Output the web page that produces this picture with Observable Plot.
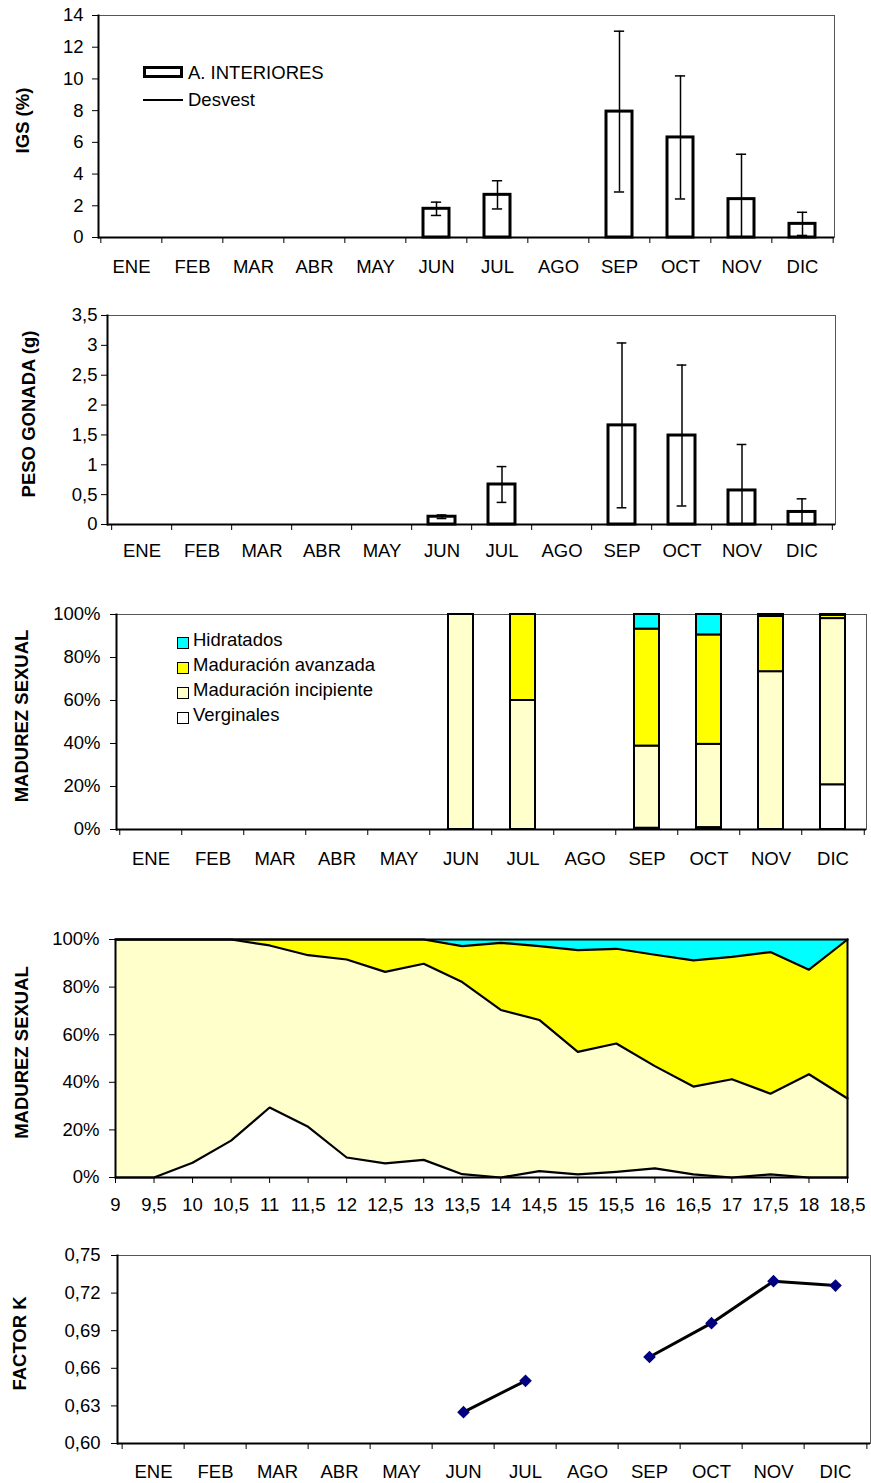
<!DOCTYPE html>
<html>
<head>
<meta charset="utf-8">
<script src="https://cdn.jsdelivr.net/npm/d3@7"></script>
<script src="https://cdn.jsdelivr.net/npm/@observablehq/plot@0.6"></script>
<style>
  body { margin: 0; background: #fff; }
  #root { position: relative; width: 871px; height: 1483px; font-family: "Liberation Sans", Arial, sans-serif; color: #000; }
  .panel { position: absolute; left: 0; }
  .panel svg { display: block; }
  .lt { position: absolute; font-size: 18.5px; line-height: 18px; white-space: nowrap; }
  .sw { position: absolute; box-sizing: border-box; }
</style>
</head>
<body>
<div id="root"></div>
<script>
// ---------- DATA ----------
const months = ["ENE","FEB","MAR","ABR","MAY","JUN","JUL","AGO","SEP","OCT","NOV","DIC"];

// Panel 1 & 2 (months with samples)
const sampleMonths = ["JUN","JUL","SEP","OCT","NOV","DIC"];
const igsMean = [1.81, 2.69, 7.94, 6.31, 2.42, 0.86];
const igsSd   = [0.42, 0.89, 5.07, 3.88, 2.83, 0.73];
const igsTicks = [0, 2, 4, 6, 8, 10, 12, 14];

const gonadMean = [0.13, 0.67, 1.66, 1.49, 0.57, 0.21];
const gonadSd   = [0.03, 0.30, 1.38, 1.18, 0.77, 0.22];
const gonadTicks = [0, 0.5, 1, 1.5, 2, 2.5, 3, 3.5];

// Panel 3 (sexual maturity by month, %)
const stages = ["Verginales", "Maduración incipiente", "Maduración avanzada", "Hidratados"];
const stageColors = ["#ffffff", "#ffffcc", "#ffff00", "#00ffff"];
const verginalesMes = [0, 0, 0.6, 0.9, 0, 20.8];
const incipienteMes = [100, 60, 38.2, 38.7, 73.4, 77.3];
const avanzadaMes   = [0, 40, 54.4, 50.9, 25.7, 1.5];
const hidratadosMes = [0, 0, 6.8, 9.5, 0.9, 0.4];
const pctTicks = [0, 20, 40, 60, 80, 100];

// Panel 4 (sexual maturity by size, %)
const tallas = [9, 9.5, 10, 10.5, 11, 11.5, 12, 12.5, 13, 13.5, 14, 14.5, 15, 15.5, 16, 16.5, 17, 17.5, 18, 18.5];
const verginalesTalla = [0, 0, 6.2, 15.5, 29.4, 21.3, 8.4, 5.9, 7.4, 1.4, 0, 2.7, 1.3, 2.4, 3.8, 1.3, 0, 1.3, 0, 0];
const incipienteTalla = [100, 100, 93.8, 84.5, 68.1, 72.1, 83.2, 80.5, 82.4, 80.7, 70.4, 63.5, 51.5, 53.9, 43.0, 36.9, 41.3, 33.9, 43.4, 33.2];
const avanzadaTalla   = [0, 0, 0, 0, 2.5, 6.6, 8.4, 13.6, 10.2, 15.1, 28.2, 31.0, 42.7, 39.8, 46.8, 53.0, 51.4, 59.5, 43.9, 66.8];
const hidratadosTalla = [0, 0, 0, 0, 0, 0, 0, 0, 0, 2.8, 1.4, 2.8, 4.5, 3.9, 6.4, 8.8, 7.3, 5.3, 12.7, 0];

// Panel 5 (factor K)
const kMonths = ["JUN","JUL","AGO","SEP","OCT","NOV","DIC"];
const kValues = [0.625, 0.650, null, 0.669, 0.696, 0.7295, 0.726];
const kTicks = [0.60, 0.63, 0.66, 0.69, 0.72, 0.75];

// ---------- HELPERS ----------
const W = 871;
const FS = 18.5;
const FONT = "'Liberation Sans', Arial, sans-serif";
const rootEl = document.getElementById("root");
const comma = d => String(d).replace(".", ",");

function addPanel(svg, top) {
  const div = document.createElement("div");
  div.className = "panel";
  div.style.top = top + "px";
  div.appendChild(svg);
  rootEl.appendChild(div);
}
function addText(txt, left, baseline) {
  const d = document.createElement("div");
  d.className = "lt";
  d.textContent = txt;
  d.style.left = left + "px";
  d.style.top = (baseline - 15.5) + "px";
  rootEl.appendChild(d);
}
function addBox(left, top, w, h, style) {
  const d = document.createElement("div");
  d.className = "sw";
  d.style.left = left + "px"; d.style.top = top + "px";
  d.style.width = w + "px"; d.style.height = h + "px";
  Object.assign(d.style, style);
  rootEl.appendChild(d);
}

function monthAxes(step, tickPad) {
  return [
    Plot.axisX({tickSize: 0, tickPadding: tickPad, fontSize: FS, label: null}),
    Plot.axisX({tickSize: 6, tickFormat: () => "", dx: -step / 2, label: null}),
    Plot.axisX([months[months.length - 1]], {tickSize: 6, tickFormat: () => "", dx: step / 2, label: null})
  ];
}
function yLabel(text, ml, cx) {
  return Plot.text([text], {text: d => d, frameAnchor: "left", dx: cx - ml, dy: -6, rotate: -90,
    fontWeight: "bold", fontSize: FS, textAnchor: "middle", lineAnchor: "middle"});
}

function barPanel({mean, sd, ticks, yMax, height, ml, mr, mt, mb, pad, tickPad, yTickPad, label, labelX}) {
  const data = sampleMonths.map((m, i) => ({month: m, mean: mean[i], sd: sd[i]}));
  const step = (W - ml - mr) / 12;
  const bw = step * (1 - pad);
  const capInset = (bw - 10) / 2;
  return Plot.plot({
    width: W, height, marginLeft: ml, marginRight: mr, marginTop: mt, marginBottom: mb,
    style: {fontFamily: FONT, fontSize: FS + "px", background: "transparent", overflow: "visible"},
    x: {type: "band", domain: months, paddingInner: pad, paddingOuter: pad / 2},
    y: {domain: [0, yMax]},
    marks: [
      Plot.frame({stroke: "#555", strokeWidth: 1}),
      Plot.barY(data, {x: "month", y: "mean", fill: "white", stroke: "black", strokeWidth: 3}),
      Plot.ruleX(data, {x: "month", y1: d => Math.max(0, d.mean - d.sd), y2: d => d.mean + d.sd, stroke: "black", strokeWidth: 1.5}),
      Plot.tickY(data, {x: "month", y: d => d.mean + d.sd, insetLeft: capInset, insetRight: capInset, stroke: "black", strokeWidth: 1.5}),
      Plot.tickY(data.filter(d => d.mean - d.sd > 0), {x: "month", y: d => d.mean - d.sd, insetLeft: capInset, insetRight: capInset, stroke: "black", strokeWidth: 1.5}),
      Plot.ruleY([0], {stroke: "black", strokeWidth: 2}),
      Plot.frame({anchor: "left", stroke: "black", strokeWidth: 2}),
      Plot.axisY({ticks, tickFormat: comma, tickSize: 6, tickPadding: yTickPad, fontSize: FS, label: null}),
      ...monthAxes(step, tickPad),
      yLabel(label, ml, labelX)
    ]
  });
}

// ---------- PANEL 1 ----------
addPanel(barPanel({mean: igsMean, sd: igsSd, ticks: igsTicks, yMax: 14, height: 290,
  ml: 98, mr: 37, mt: 15, mb: 53, pad: 0.58, tickPad: 22, yTickPad: 9, label: "IGS (%)", labelX: 23}), 0);
addBox(143, 66, 40, 12, {border: "3px solid #000", background: "#fff"});
addText("A. INTERIORES", 188, 79);
addBox(143, 99, 40, 2, {background: "#000"});
addText("Desvest", 188, 106.7);

// ---------- PANEL 2 ----------
addPanel(barPanel({mean: gonadMean, sd: gonadSd, ticks: gonadTicks, yMax: 3.5, height: 290,
  ml: 107, mr: 36, mt: 25, mb: 56, pad: 0.55, tickPad: 19, yTickPad: 4, label: "PESO GONADA (g)", labelX: 28.7}), 290);

// ---------- PANEL 3 ----------
{
  const ml = 116, mr = 5, mt = 34, mb = 71, height = 320;
  const step = (W - ml - mr) / 12;
  const series = [verginalesMes, incipienteMes, avanzadaMes, hidratadosMes];
  const rows = [];
  sampleMonths.forEach((m, i) => series.forEach((arr, j) => { if (arr[i] > 0) rows.push({month: m, stage: stages[j], value: arr[i]}); }));
  const svg = Plot.plot({
    width: W, height, marginLeft: ml, marginRight: mr, marginTop: mt, marginBottom: mb,
    style: {fontFamily: FONT, fontSize: FS + "px", background: "transparent", overflow: "visible"},
    x: {type: "band", domain: months, paddingInner: 0.6, paddingOuter: 0.3},
    y: {domain: [0, 100]},
    color: {domain: stages, range: stageColors},
    marks: [
      Plot.frame({stroke: "#555", strokeWidth: 1}),
      Plot.barY(rows, Plot.stackY({order: stages}, {x: "month", y: "value", fill: "stage", stroke: "black", strokeWidth: 2})),
      Plot.ruleY([0], {stroke: "black", strokeWidth: 2}),
      Plot.frame({anchor: "left", stroke: "black", strokeWidth: 2}),
      Plot.axisY({ticks: pctTicks, tickFormat: d => d + "%", tickSize: 6, tickPadding: 10, fontSize: FS, label: null}),
      ...monthAxes(step, 22),
      yLabel("MADUREZ SEXUAL", ml, 21.7)
    ]
  });
  addPanel(svg, 580);
  const legendOrder = [3, 2, 1, 0];
  legendOrder.forEach((j, r) => {
    addBox(176.7, 636.7 + r * 25, 12, 12, {border: "1.5px solid #000", background: stageColors[j]});
    addText(stages[j], 193, 646.7 + r * 25);
  });
}

// ---------- PANEL 4 ----------
{
  const ml = 115, mr = 24, mt = 39, mb = 48, height = 325;
  const series = [verginalesTalla, incipienteTalla, avanzadaTalla, hidratadosTalla];
  const rows = [];
  tallas.forEach((t, i) => {
    let acc = 0;
    series.forEach((arr, j) => {
      const y1 = acc; acc += arr[i];
      rows.push({talla: t, stage: stages[j], y1, y2: Math.min(100, acc)});
    });
  });
  const svg = Plot.plot({
    width: W, height, marginLeft: ml, marginRight: mr, marginTop: mt, marginBottom: mb,
    style: {fontFamily: FONT, fontSize: FS + "px", background: "transparent", overflow: "visible"},
    x: {domain: [9, 18.5]},
    y: {domain: [0, 100]},
    color: {domain: stages, range: stageColors},
    marks: [
      Plot.areaY(rows, {x: "talla", y1: "y1", y2: "y2", z: "stage", fill: "stage"}),
      Plot.line(rows.filter(d => d.stage !== "Hidratados"), {x: "talla", y: "y2", z: "stage", stroke: "black", strokeWidth: 2.2}),
      Plot.frame({stroke: "black", strokeWidth: 2}),
      Plot.axisY({ticks: pctTicks, tickFormat: d => d + "%", tickSize: 6, tickPadding: 10, fontSize: FS, label: null}),
      Plot.axisX({ticks: tallas, tickFormat: comma, tickSize: 6, tickPadding: 14, fontSize: FS, label: null}),
      yLabel("MADUREZ SEXUAL", ml, 21.7)
    ]
  });
  addPanel(svg, 900);
}

// ---------- PANEL 5 ----------
{
  const ml = 117, mr = 1, mt = 30, mb = 40, height = 258;
  const step = (W - ml - mr) / 12;
  const rows = kMonths.map((m, i) => ({month: m, k: kValues[i]}));
  const diamond = {draw(ctx, size) { const r = Math.sqrt(size) * 0.62625; ctx.moveTo(0, -r); ctx.lineTo(r, 0); ctx.lineTo(0, r); ctx.lineTo(-r, 0); ctx.closePath(); }};
  const svg = Plot.plot({
    width: W, height, marginLeft: ml, marginRight: mr, marginTop: mt, marginBottom: mb,
    style: {fontFamily: FONT, fontSize: FS + "px", background: "transparent", overflow: "visible"},
    x: {type: "band", domain: months, padding: 0},
    y: {domain: [0.60, 0.75]},
    marks: [
      Plot.frame({stroke: "#555", strokeWidth: 1}),
      Plot.line(rows, {x: "month", y: "k", stroke: "black", strokeWidth: 3}),
      Plot.dot(rows.filter(d => d.k != null), {x: "month", y: "k", symbol: diamond, r: 5.7, fill: "#000080", stroke: "none"}),
      Plot.ruleY([0.60], {stroke: "black", strokeWidth: 2}),
      Plot.frame({anchor: "left", stroke: "black", strokeWidth: 2}),
      Plot.axisY({ticks: kTicks, tickFormat: d => d.toFixed(2).replace(".", ","), tickSize: 6, tickPadding: 11, fontSize: FS, label: null}),
      ...monthAxes(step, 21),
      yLabel("FACTOR K", ml, 20)
    ]
  });
  addPanel(svg, 1225);
}
</script>
</body>
</html>
